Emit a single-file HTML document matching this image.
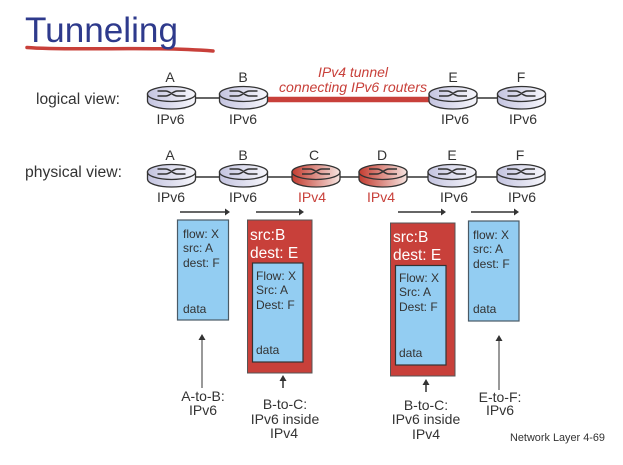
<!DOCTYPE html>
<html><head><meta charset="utf-8"><style>
html,body{margin:0;padding:0;background:#fff}
svg{display:block}
text{font-family:"Liberation Sans",sans-serif;fill:#333}
</style></head><body>
<svg width="623" height="465" viewBox="0 0 623 465" xmlns="http://www.w3.org/2000/svg">
<defs>
<linearGradient id="g6" x1="0" x2="1" y1="0" y2="0"><stop offset="0" stop-color="#c4c4e0"/><stop offset="1" stop-color="#f7f7fc"/></linearGradient>
<linearGradient id="g4" x1="0" x2="1" y1="0" y2="0"><stop offset="0" stop-color="#c43c30"/><stop offset="1" stop-color="#f6e4e0"/></linearGradient>
<g id="r6">
<path d="M-24,-4 V3 C-24,8 -12,11 0,11 C12,11 24,8 24,3 V-4 Z" fill="url(#g6)" stroke="#333" stroke-width="1.300"/>
<ellipse cx="0" cy="-4" rx="24" ry="7.5" fill="url(#g6)" stroke="#333" stroke-width="1.300"/>
<path d="M-14,-7 H-6 C-1,-7 1,-2 6,-2 H14 M-14,-2 H-6 C-1,-2 1,-7 6,-7 H14" fill="none" stroke="#333" stroke-width="1.500"/>
</g>
<g id="r4">
<path d="M-24,-4 V3 C-24,8 -12,11 0,11 C12,11 24,8 24,3 V-4 Z" fill="url(#g4)" stroke="#333" stroke-width="1.300"/>
<ellipse cx="0" cy="-4" rx="24" ry="7.5" fill="url(#g4)" stroke="#333" stroke-width="1.300"/>
<path d="M-14,-7 H-6 C-1,-7 1,-2 6,-2 H14 M-14,-2 H-6 C-1,-2 1,-7 6,-7 H14" fill="none" stroke="#333" stroke-width="1.500"/>
</g>
</defs>

<path d="M27,47.500 C70,51 150,46 213,51" fill="none" stroke="#c8403a" stroke-width="3.500" stroke-linecap="round"/>
<text x="25" y="42" font-size="35" textLength="153" lengthAdjust="spacingAndGlyphs" style="fill:#2e3a8c">Tunneling</text>

<text x="36" y="104" font-size="15.500" textLength="84" lengthAdjust="spacingAndGlyphs">logical view:</text>
<text x="25" y="177" font-size="15.500" textLength="97" lengthAdjust="spacingAndGlyphs">physical view:</text>

<line x1="195" y1="98" x2="220" y2="98" stroke="#333" stroke-width="1.500"/>
<line x1="267" y1="99.500" x2="430" y2="99.500" stroke="#c8403a" stroke-width="5.500"/>
<line x1="476" y1="98" x2="498" y2="98" stroke="#333" stroke-width="1.500"/>
<use href="#r6" x="171.500" y="98"/>
<use href="#r6" x="243.500" y="98"/>
<use href="#r6" x="453" y="98"/>
<use href="#r6" x="521.500" y="98"/>

<g font-size="14" text-anchor="middle">
<text x="170" y="82">A</text><text x="243" y="82">B</text><text x="453" y="82">E</text><text x="521" y="82">F</text>
<text x="170.500" y="124">IPv6</text><text x="243" y="124">IPv6</text><text x="455" y="124">IPv6</text><text x="523" y="124">IPv6</text>
</g>
<g font-size="14" font-style="italic" text-anchor="middle">
<text x="353" y="77" style="fill:#c8403a">IPv4 tunnel</text>
<text x="353" y="92" textLength="148" lengthAdjust="spacingAndGlyphs" style="fill:#c8403a">connecting IPv6 routers</text>
</g>

<line x1="195" y1="177" x2="430" y2="177" stroke="#333" stroke-width="1.500"/>
<line x1="476" y1="177" x2="498" y2="177" stroke="#333" stroke-width="1.500"/>
<use href="#r6" x="171.500" y="176"/>
<use href="#r6" x="243.500" y="176"/>
<use href="#r4" x="316" y="176"/>
<use href="#r4" x="383" y="176"/>
<use href="#r6" x="452" y="176"/>
<use href="#r6" x="521" y="176"/>

<g font-size="14" text-anchor="middle">
<text x="170" y="160">A</text><text x="243" y="160">B</text><text x="314" y="160">C</text><text x="382" y="160">D</text><text x="452" y="160">E</text><text x="520" y="160">F</text>
<text x="171" y="202">IPv6</text><text x="243" y="202">IPv6</text><text x="312" y="202" style="fill:#c8403a">IPv4</text><text x="381" y="202" style="fill:#c8403a">IPv4</text><text x="454" y="202">IPv6</text><text x="522" y="202">IPv6</text>
</g>

<g stroke="#333" stroke-width="1.500" fill="#333">
<line x1="180" y1="212" x2="226" y2="212"/><path d="M230,212 L225,208.500 V215.500 Z" stroke="none"/>
<line x1="256" y1="212" x2="300" y2="212"/><path d="M304,212 L299,208.500 V215.500 Z" stroke="none"/>
<line x1="398" y1="212" x2="442" y2="212"/><path d="M446,212 L441,208.500 V215.500 Z" stroke="none"/>
<line x1="471" y1="212" x2="515" y2="212"/><path d="M519,212 L514,208.500 V215.500 Z" stroke="none"/>
</g>

<rect x="177.500" y="220" width="51" height="100" fill="#93cdf2" stroke="#4a5a66" stroke-width="1.200"/>
<rect x="247.500" y="220" width="64.500" height="153" fill="#c8403a" stroke="#555" stroke-width="1"/>
<rect x="252.500" y="263" width="50.500" height="99" fill="#93cdf2" stroke="#333" stroke-width="1.200"/>
<rect x="390.500" y="223" width="64.500" height="153" fill="#c8403a" stroke="#555" stroke-width="1"/>
<rect x="395.500" y="265.500" width="50.500" height="99.500" fill="#93cdf2" stroke="#333" stroke-width="1.200"/>
<rect x="468.500" y="221" width="50.500" height="100" fill="#93cdf2" stroke="#4a5a66" stroke-width="1.200"/>

<g font-size="12">
<text x="183" y="238">flow: X</text><text x="183" y="252">src: A</text><text x="183" y="267">dest: F</text><text x="183" y="313">data</text>
<text x="256" y="280">Flow: X</text><text x="256" y="294">Src: A</text><text x="256" y="309">Dest: F</text><text x="256" y="354">data</text>
<text x="399" y="282">Flow: X</text><text x="399" y="296">Src: A</text><text x="399" y="311">Dest: F</text><text x="399" y="357">data</text>
<text x="473" y="239">flow: X</text><text x="473" y="253">src: A</text><text x="473" y="268">dest: F</text><text x="473" y="313">data</text>
</g>
<g font-size="15.500">
<text x="250" y="240" style="fill:#fff">src:B</text><text x="250" y="258" style="fill:#fff">dest: E</text>
<text x="393" y="242" style="fill:#fff">src:B</text><text x="393" y="260" style="fill:#fff">dest: E</text>
</g>

<g stroke="#777" stroke-width="1.500" fill="#333">
<line x1="202" y1="388" x2="202" y2="338"/><path d="M202,334 L198.500,340 H205.500 Z" stroke="none"/>
<line x1="283" y1="388" x2="283" y2="380" stroke="#333"/><path d="M283,375 L279.500,381 H286.500 Z" stroke="none"/>
<line x1="426" y1="392" x2="426" y2="384" stroke="#333"/><path d="M426,379 L422.500,385 H429.500 Z" stroke="none"/>
<line x1="499" y1="390" x2="499" y2="340"/><path d="M499,335 L495.500,341 H502.500 Z" stroke="none"/>
</g>

<g font-size="14" text-anchor="middle">
<text x="203" y="401">A-to-B:</text><text x="203" y="415">IPv6</text>
<text x="285" y="409">B-to-C:</text><text x="285" y="424">IPv6 inside</text><text x="284" y="438">IPv4</text>
<text x="426" y="410">B-to-C:</text><text x="426" y="424">IPv6 inside</text><text x="426" y="439">IPv4</text>
<text x="500" y="402">E-to-F:</text><text x="500" y="415">IPv6</text>
</g>
<text x="510" y="441" font-size="11" textLength="95" lengthAdjust="spacingAndGlyphs">Network Layer 4-69</text>
</svg>
</body></html>
